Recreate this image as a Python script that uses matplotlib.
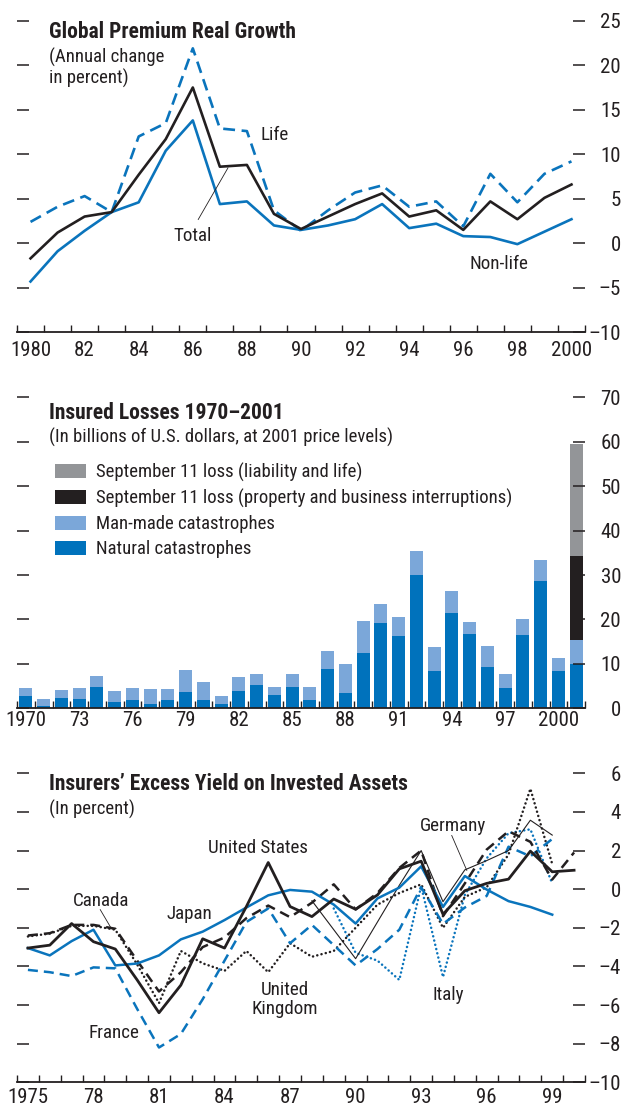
import numpy as np
import matplotlib
matplotlib.use('Agg')
import matplotlib.pyplot as plt
import matplotlib.font_manager as fm

# ---------------- data ----------------
growth_years = list(range(1980, 2001))
growth_total = [-1.7, 1.2, 3.0, 3.5, 7.7, 11.7, 17.5, 8.6, 8.8, 3.3, 1.6,
                3.0, 4.4, 5.6, 3.0, 3.7, 1.5, 4.7, 2.7, 5.1, 6.6]
growth_nonlife = [-4.3, -0.9, 1.4, 3.5, 4.6, 10.4, 13.8, 4.4, 4.7, 2.0, 1.5,
                  2.0, 2.7, 4.4, 1.7, 2.2, 0.8, 0.7, -0.1, 1.3, 2.7]
growth_life = [2.4, 4.1, 5.3, 3.5, 12.0, 13.5, 21.9, 12.9, 12.6, 3.7, 1.4,
               3.7, 5.7, 6.5, 4.1, 4.7, 1.9, 7.8, 4.6, 7.8, 9.2]
growth_label_years = [1980, 1982, 1984, 1986, 1988, 1990, 1992, 1994, 1996, 1998, 2000]
growth_xlabels = ['1980', '82', '84', '86', '88', '90', '92', '94', '96', '98', '2000']
growth_yticks = [-10, -5, 0, 5, 10, 15, 20, 25]

loss_years = list(range(1970, 2002))
loss_natural = [2.8, 0.6, 2.3, 2.1, 4.8, 1.4, 1.9, 1.0, 1.9, 3.7, 1.9, 1.0, 3.9, 5.2,
                3.0, 4.8, 1.9, 8.9, 3.4, 12.5, 19.2, 16.3, 30.0, 8.4, 21.5, 16.7,
                9.3, 4.6, 16.5, 28.7, 8.4, 10.0]
loss_manmade = [1.7, 1.6, 1.8, 2.5, 2.5, 2.5, 2.7, 3.4, 2.5, 4.9, 4.0, 1.8, 3.2, 2.5,
                1.8, 2.9, 2.9, 4.0, 6.6, 7.2, 4.3, 4.3, 5.4, 5.4, 4.9, 2.7, 4.7,
                3.1, 3.6, 4.7, 2.9, 5.4]
sep11_years = [2001]
sep11_property = [18.9]
sep11_liability = [25.2]
loss_label_years = [1970, 1973, 1976, 1979, 1982, 1985, 1988, 1991, 1994, 1997, 2000]
loss_xlabels = ['1970', '73', '76', '79', '82', '85', '88', '91', '94', '97', '2000']
loss_yticks = [0, 10, 20, 30, 40, 50, 60, 70]
loss_legend = ['September 11 loss (liability and life)',
               'September 11 loss (property and business interruptions)',
               'Man-made catastrophes', 'Natural catastrophes']

nan = np.nan
yield_years = list(range(1975, 2001))
yield_us = [-3.05, -2.9, -1.78, -2.72, -3.1, -4.7, -6.4, -4.97, -2.57, -3.05, -0.9, 1.38,
            -0.9, -1.42, -0.51, -1.04, -0.3, 1.05, 1.45, -1.3, -0.08, 0.3, 0.52, 1.97,
            0.9, 0.98]
yield_japan = [-3.05, -3.43, -2.69, -2.1, -3.95, -3.85, -3.43, -2.6, -2.2, -1.6, -0.95,
               -0.32, -0.04, -0.13, -0.8, -1.78, -0.48, 0.08, 1.18, -0.92, 0.68, -0.02,
               -0.62, -0.92, -1.32, nan]
yield_france = [-4.18, -4.3, -4.5, -4.05, -4.1, -6.2, -8.2, -7.5, -5.7, -3.7, -1.7, -1.0,
                -2.8, -1.85, -2.9, -3.95, -3.1, -2.1, 0.1, -1.8, -0.95, -0.35, 2.2, 1.7,
                2.6, nan]
yield_canada = [-2.4, -2.28, -1.85, -1.85, -2.05, -3.7, -5.3, -4.3, -3.0, -2.5, -1.5,
                -0.85, -1.45, -0.7, 0.25, -1.05, -0.2, 1.1, 2.0, -1.4, 0.3, 2.05, 3.0,
                2.45, 0.5, 1.9]
yield_uk = [-2.45, -2.3, -1.9, -1.9, -2.1, -3.9, -5.9, -3.2, -3.84, -4.23, -3.2, -4.3,
            -2.8, -3.5, -3.2, -2.0, -0.8, -0.2, 0.25, -2.0, -0.4, 0.1, 1.8, 5.2, 1.3, nan]
yield_germany = [nan] * 13 + [-0.6, -2.1, -3.6, -1.7, 0.2, 2.0, -0.65, 1.0, 1.48, 2.0,
                              3.57, 2.8, nan]
yield_italy = [nan] * 14 + [-1.0, -3.3, -3.7, -4.7, 0.15, -4.55, -0.3, 1.6, 2.9, 3.1,
                            0.3, nan]
yield_label_years = [1975, 1978, 1981, 1984, 1987, 1990, 1993, 1996, 1999]
yield_xlabels = ['1975', '78', '81', '84', '87', '90', '93', '96', '99']
yield_yticks = [-10, -8, -6, -4, -2, 0, 2, 4, 6]

# ---------------- fonts ----------------
entries = fm.fontManager.ttflist
names = {f.name for f in entries}
FONT = {'family': 'Liberation Sans'}
for cand in ['Liberation Sans Narrow', 'Roboto Condensed', 'Open Sans Condensed',
             'DejaVu Sans Condensed', 'Noto Sans Condensed']:
    if cand in names:
        FONT = {'family': cand}
        break
else:
    for base in ['Noto Sans', 'Open Sans', 'Roboto', 'DejaVu Sans']:
        if any(f.name == base and f.stretch in ('condensed', 'semi-condensed',
                                               'extra-condensed', 400, 300)
               for f in entries):
            FONT = {'family': base, 'stretch': 'condensed'}
            break

plt.rcParams['font.family'] = [FONT['family'], 'DejaVu Sans']
if 'stretch' in FONT:
    plt.rcParams['font.stretch'] = FONT['stretch']

INK = '#231F20'
BLUE = '#0A74BC'
DARKBLUE = '#0072BC'
LIGHTBLUE = '#7BA7D9'
GRAY = '#939598'

TICK_FS = 15
TITLE_FS = 15.5
SUB_FS = 13.5
LABEL_FS = 13.7

fig = plt.figure(figsize=(6.24, 11.09), dpi=100)

L, W = 17 / 624, 568 / 624
ax1 = fig.add_axes([L, 0.7004, W, 0.2809])
ax2 = fig.add_axes([L, 0.3613, W, 0.2804])
ax3 = fig.add_axes([L, 0.0241, W, 0.2786])


def style_axis(ax, x0, x1, label_years, xlabels, yticks, xpad):
    ax.set_xlim(x0 - 0.5, x1 + 0.5)
    ax.set_ylim(yticks[0], yticks[-1])
    for s in ['left', 'right', 'top']:
        ax.spines[s].set_visible(False)
    ax.spines['bottom'].set_color(INK)
    ax.spines['bottom'].set_linewidth(1.3)
    ax.set_facecolor('none')
    # year boundary ticks
    ax.set_xticks(np.arange(x0 - 0.5, x1 + 1.0, 1.0))
    ax.set_xticklabels([])
    ax.tick_params(axis='x', which='major', direction='in', length=5, width=1.0,
                   color=INK)
    ax.set_xticks(label_years, minor=True)
    ax.set_xticklabels(xlabels, minor=True)
    ax.tick_params(axis='x', which='minor', length=0, pad=xpad, labelsize=TICK_FS,
                   labelcolor=INK)
    # y ticks
    ax.set_yticks(yticks)
    ax.set_yticklabels([str(v).replace('-', '\u2013') for v in yticks])
    ax.yaxis.set_ticks_position('both')
    ax.tick_params(axis='y', direction='in', length=8.6, width=1.1, color=INK,
                   labelleft=False, labelright=True, pad=26, labelsize=TICK_FS,
                   labelcolor=INK)
    for t in ax.get_yticklabels():
        t.set_horizontalalignment('right')


def titles(ax, title, subtitle, ty, sy):
    ax.text(0.0567, ty, title, transform=ax.transAxes, fontsize=TITLE_FS,
            fontweight='bold', color=INK, ha='left', va='center')
    ax.text(0.0567, sy, subtitle, transform=ax.transAxes, fontsize=SUB_FS,
            color=INK, ha='left', va='top', linespacing=1.1)


# ---------------- panel 1 ----------------
style_axis(ax1, growth_years[0], growth_years[-1], growth_label_years,
           growth_xlabels, growth_yticks, 6)
ax1.plot(growth_years, growth_life, color=BLUE, lw=1.9, ls=(0, (4.5, 2.5)))
ax1.plot(growth_years, growth_nonlife, color=BLUE, lw=1.9)
ax1.plot(growth_years, growth_total, color=INK, lw=1.9)
titles(ax1, 'Global Premium Real Growth', '(Annual change\nin percent)', 0.965, 0.912)
ax1.text(1989.03, 12.15, 'Life', fontsize=LABEL_FS, color=INK, ha='center', va='center')
ax1.text(1986.01, 0.79, 'Total', fontsize=LABEL_FS, color=INK, ha='center', va='center')
ax1.plot([1986.2, 1987.3], [2.67, 8.47], color=INK, lw=0.6)
ax1.text(1997.32, -2.29, 'Non-life', fontsize=LABEL_FS, color=INK, ha='center',
         va='center')

# ---------------- panel 2 ----------------
style_axis(ax2, loss_years[0], loss_years[-1], loss_label_years, loss_xlabels,
           loss_yticks, 2)
bw = 0.74
b_nat = ax2.bar(loss_years, loss_natural, width=bw, color=DARKBLUE, lw=0)
b_man = ax2.bar(loss_years, loss_manmade, width=bw, bottom=loss_natural,
                color=LIGHTBLUE, lw=0)
base01 = [loss_natural[loss_years.index(y)] + loss_manmade[loss_years.index(y)]
          for y in sep11_years]
b_prop = ax2.bar(sep11_years, sep11_property, width=bw, bottom=base01, color=INK, lw=0)
b_liab = ax2.bar(sep11_years, sep11_liability, width=bw,
                 bottom=[a + b for a, b in zip(base01, sep11_property)],
                 color=GRAY, lw=0)
titles(ax2, 'Insured Losses 1970\u20132001',
       '(In billions of U.S. dollars, at 2001 price levels)', 0.949, 0.902)
ax2.legend([b_liab, b_prop, b_man, b_nat], loss_legend, loc='upper left',
           bbox_to_anchor=(0.067, 0.79), frameon=False, fontsize=SUB_FS,
           handlelength=1.65, handleheight=0.78, handletextpad=0.55,
           labelspacing=0.38, borderpad=0, borderaxespad=0, labelcolor=INK)

# ---------------- panel 3 ----------------
style_axis(ax3, yield_years[0], yield_years[-1], yield_label_years, yield_xlabels,
           yield_yticks, 4)
LW = 1.8
ax3.plot(yield_years, yield_italy, color=BLUE, lw=LW, ls=(0, (0.05, 1.7)),
         dash_capstyle='round')
ax3.plot(yield_years, yield_uk, color=INK, lw=LW, ls=(0, (0.05, 1.7)),
         dash_capstyle='round')
ax3.plot(yield_years, yield_france, color=BLUE, lw=LW, ls=(0, (4, 2.4)))
ax3.plot(yield_years, yield_canada, color=INK, lw=LW, ls=(0, (4, 2.4)))
ax3.plot(yield_years, yield_germany, color=INK, lw=0.8)
ax3.plot(yield_years, yield_japan, color=BLUE, lw=LW)
ax3.plot(yield_years, yield_us, color=INK, lw=2.0)
titles(ax3, 'Insurers\u2019 Excess Yield on Invested Assets', '(In percent)', 0.965,
       0.915)
lab = dict(fontsize=LABEL_FS, color=INK, ha='center', va='center')
ax3.text(1978.33, -0.61, 'Canada', **lab)
ax3.plot([1978.31, 1978.82], [-1.06, -2.04], color=INK, lw=0.6)
ax3.text(1982.41, -1.27, 'Japan', **lab)
ax3.text(1985.51, 2.14, 'United States', **lab)
ax3.text(1986.74, -5.71, 'United\nKingdom', linespacing=1.05, **lab)
ax3.text(1978.95, -7.47, 'France', **lab)
ax3.text(1994.45, 3.29, 'Germany', **lab)
ax3.plot([1994.4, 1995.09], [2.78, 0.97], color=INK, lw=0.6)
ax3.text(1994.25, -5.49, 'Italy', **lab)

fig.savefig('out.png', dpi=100)
